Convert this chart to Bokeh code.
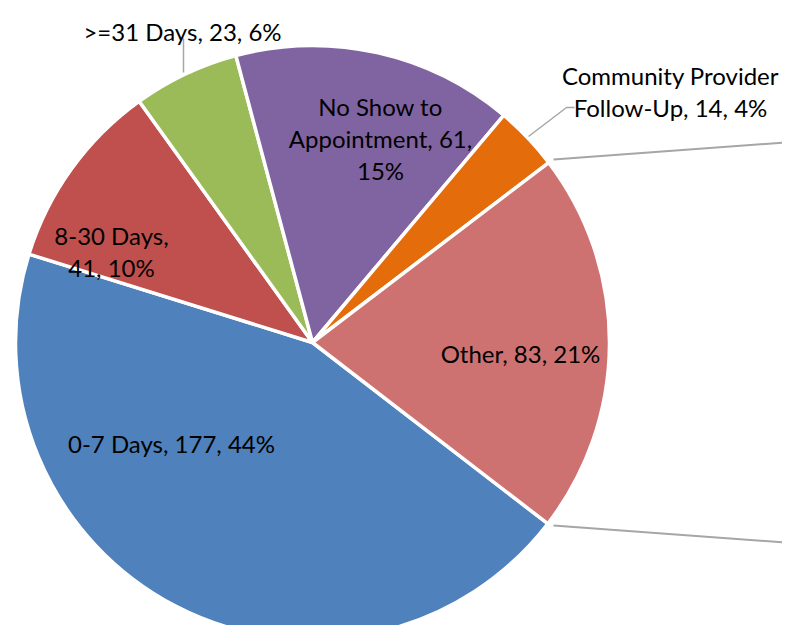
import numpy as np
from bokeh.plotting import figure
from bokeh.models import Range1d, ColumnDataSource
from bokeh.core.properties import value
from bokeh.embed import file_html
from bokeh.resources import INLINE

# ---- data ----
categories = ["0-7 Days", "8-30 Days", ">=31 Days", "No Show to Appointment",
              "Community Provider Follow-Up", "Other"]
counts = [177, 41, 23, 61, 14, 83]
percents = [44, 10, 6, 15, 4, 21]
colors = ["#4F81BD", "#C0504D", "#9BBB59", "#8064A2", "#E46C0A", "#CD7270"]

# label line breaks (text only)
label_lines = [
    ["0-7 Days, 177, 44%"],
    ["8-30 Days,", "41, 10%"],
    [">=31 Days, 23, 6%"],
    ["No Show to", "Appointment, 61,", "15%"],
    ["Community Provider", "Follow-Up, 14, 4%"],
    ["Other, 83, 21%"],
]

# ---- layout (reference pixel coordinates; y measured downward) ----
W, H = 782, 625
cx, cy, r = 312, 342, 297
start_deg = -37.6
label_anchor = [(171, 443), (111, 235), (182, 31), (380, 106), (670, 75), (520, 353)]
line_gap = 32
font = "Lato"
font_size = "24px"

p = figure(width=W, height=H, output_backend="svg", toolbar_location=None,
           x_range=Range1d(0, W), y_range=Range1d(-H, 0),
           min_border=0)
p.axis.visible = False
p.grid.visible = False
p.outline_line_color = None
p.background_fill_color = "white"

vals = np.array(counts, dtype=float)
frac = vals / vals.sum()
cum = np.concatenate([[0.0], np.cumsum(frac)])
st = np.deg2rad(start_deg) - cum[:-1] * 2 * np.pi
en = np.deg2rad(start_deg) - cum[1:] * 2 * np.pi

src = ColumnDataSource(dict(x=[cx] * len(vals), y=[-cy] * len(vals),
                            start=st, end=en, color=colors, cat=categories))
p.wedge(x="x", y="y", radius=r, start_angle="start", end_angle="end",
        direction="clock", fill_color="color", line_color="white",
        line_width=3.5, source=src)

# connector lines to the secondary chart (off to the right)
grey = "#A6A6A6"
p.line([553, 798], [-159, -141], line_color=grey, line_width=2)
p.line([553, 798], [-525, -543], line_color=grey, line_width=2)
# leader lines
p.line([183, 183], [-38, -72], line_color=grey, line_width=1.5)
p.line([528, 566, 574], [-136, -107, -107], line_color=grey, line_width=1.5)

tx, ty, tt = [], [], []
for lines, (ax, ay) in zip(label_lines, label_anchor):
    for i, s in enumerate(lines):
        tx.append(ax)
        ty.append(-(ay + i * line_gap))
        tt.append(s)
p.text(x=tx, y=ty, text=tt, text_align="center", text_baseline="alphabetic",
       text_font=value(font), text_font_size=font_size, text_color="black")

open("out.html", "w").write(file_html(p, INLINE))
